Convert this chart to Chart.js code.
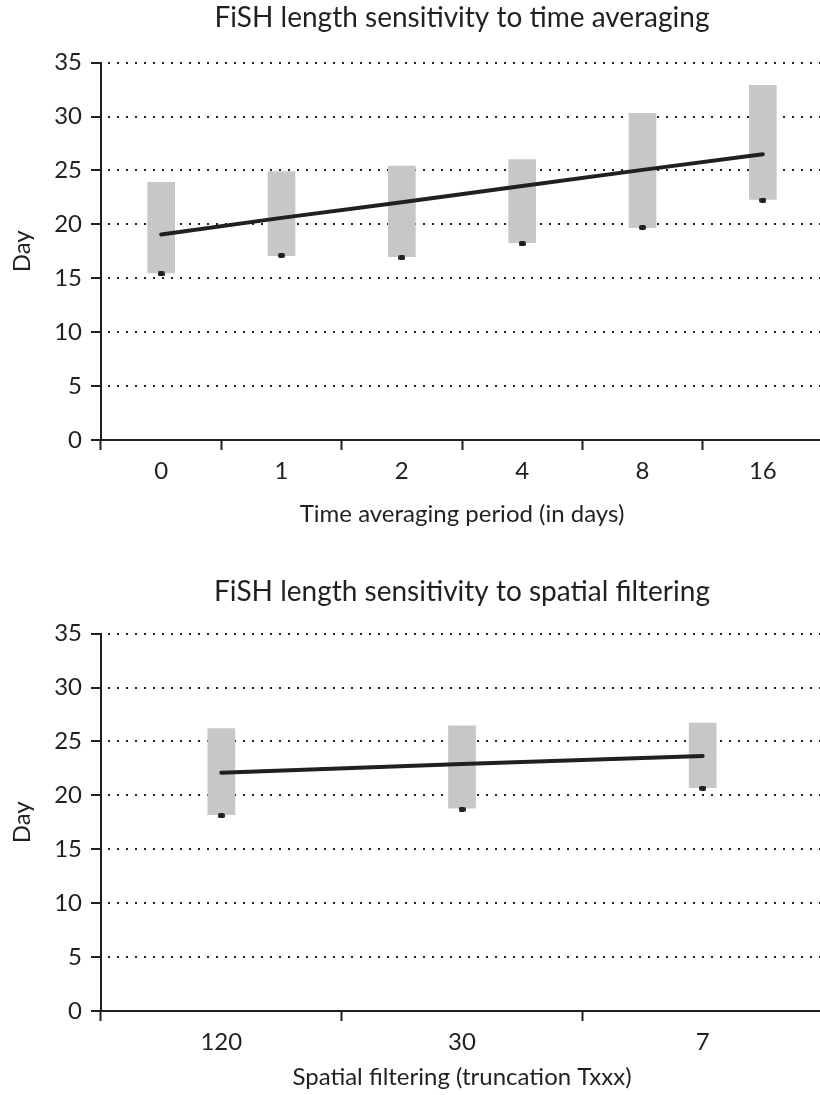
<!DOCTYPE html>
<html>
<head>
<meta charset="utf-8">
<script src="https://cdn.jsdelivr.net/npm/chart.js@4"></script>
<style>
  html, body { margin: 0; padding: 0; background: #ffffff; overflow: hidden; width: 820px; height: 1095px; }
  canvas { position: absolute; left: 0; }
  #timeChart { top: 0; }
  #spaceChart { top: 555px; }
</style>
</head>
<body>
<canvas id="timeChart" width="828" height="545"></canvas>
<canvas id="spaceChart" width="828" height="540"></canvas>
<script>
// Time averaging experiment
const timePeriods = ['0', '1', '2', '4', '8', '16'];
const timeRangeLow  = [15.5, 17.1, 17.0, 18.3, 19.7, 22.3];
const timeRangeHigh = [23.9, 24.9, 25.4, 26.0, 30.3, 32.9];
const timeMarker    = [15.4, 17.1, 16.9, 18.2, 19.7, 22.25];
const timeTrend     = [19.05, 20.6, 22.05, 23.55, 25.05, 26.5];

// Spatial filtering experiment
const truncations = ['120', '30', '7'];
const spaceRangeLow  = [18.2, 18.8, 20.7];
const spaceRangeHigh = [26.2, 26.45, 26.7];
const spaceMarker    = [18.1, 18.7, 20.65];
const spaceTrend     = [22.1, 22.9, 23.65];

const yTickValues = [0, 5, 10, 15, 20, 25, 30, 35];

const INK = '#231f20';
const BAR_GREY = '#c6c7c9';
const FONT = 'Lato, "Open Sans", sans-serif';

// small rounded black tick used for the marker points
function makeMarker() {
  const c = document.createElement('canvas');
  c.width = 7; c.height = 5;
  const g = c.getContext('2d');
  g.fillStyle = INK;
  g.beginPath();
  g.roundRect(0, 0, 7, 5, 2);
  g.fill();
  return c;
}
const markerImg = makeMarker();

function buildChart(canvasId, labels, low, high, marker, trend, opts) {
  const ranges = low.map((v, i) => [v, high[i]]);
  return new Chart(document.getElementById(canvasId), {
    type: 'bar',
    data: {
      labels: labels,
      datasets: [
        {
          type: 'line',
          data: marker,
          showLine: false,
          pointStyle: markerImg,
          pointRadius: 3,
          order: 1
        },
        {
          type: 'line',
          data: trend,
          borderColor: INK,
          borderWidth: 4,
          borderCapStyle: 'round',
          pointRadius: 0,
          tension: 0,
          fill: false,
          order: 2
        },
        {
          type: 'bar',
          data: ranges,
          backgroundColor: BAR_GREY,
          borderWidth: 0,
          barThickness: 27,
          order: 3
        }
      ]
    },
    options: {
      responsive: false,
      animation: false,
      devicePixelRatio: 1,
      layout: { padding: 0 },
      plugins: {
        legend: { display: false },
        tooltip: { enabled: false },
        title: {
          display: true,
          fullSize: false,
          text: opts.title,
          color: INK,
          font: { family: FONT, size: 28, weight: 'normal', lineHeight: 1.2 },
          padding: opts.titlePadding
        }
      },
      scales: {
        x: {
          grid: {
            display: true,
            drawOnChartArea: false,
            drawTicks: true,
            tickLength: 10,
            tickWidth: 2,
            tickColor: INK,
            offset: true
          },
          border: { display: true, color: INK, width: 2 },
          ticks: {
            color: INK,
            font: { family: FONT, size: 24 },
            padding: 7,
            maxRotation: 0
          },
          title: {
            display: true,
            text: opts.xTitle,
            color: INK,
            font: { family: FONT, size: 24 },
            padding: { top: 0, bottom: opts.xTitleBottom }
          },
          afterFit: (scale) => { scale.height = opts.xHeight; }
        },
        y: {
          min: 0,
          max: 35,
          afterBuildTicks: (scale) => { scale.ticks = yTickValues.map(v => ({ value: v })); },
          grid: {
            color: INK,
            lineWidth: 2,
            drawTicks: true,
            tickLength: 10,
            tickWidth: 2,
            tickColor: INK,
            tickBorderDash: []
          },
          border: { display: true, color: INK, width: 2, dash: [2, 7], dashOffset: 3 },
          ticks: {
            color: INK,
            font: { family: FONT, size: 24 },
            padding: 9
          },
          title: {
            display: true,
            text: 'Day',
            color: INK,
            font: { family: FONT, size: 24 },
            padding: { top: 8, bottom: 0 }
          },
          afterFit: (scale) => { scale.width = 101; }
        }
      }
    }
  });
}

buildChart('timeChart', timePeriods, timeRangeLow, timeRangeHigh, timeMarker, timeTrend, {
  title: 'FiSH length sensitivity to time averaging',
  titlePadding: { top: 1, bottom: 28 },
  xTitle: 'Time averaging period (in days)',
  xTitleBottom: 16,
  xHeight: 105
});

buildChart('spaceChart', truncations, spaceRangeLow, spaceRangeHigh, spaceMarker, spaceTrend, {
  title: 'FiSH length sensitivity to spatial filtering',
  titlePadding: { top: 20, bottom: 25 },
  xTitle: 'Spatial filtering (truncation Txxx)',
  xTitleBottom: 3,
  xHeight: 84
});
</script>
</body>
</html>
